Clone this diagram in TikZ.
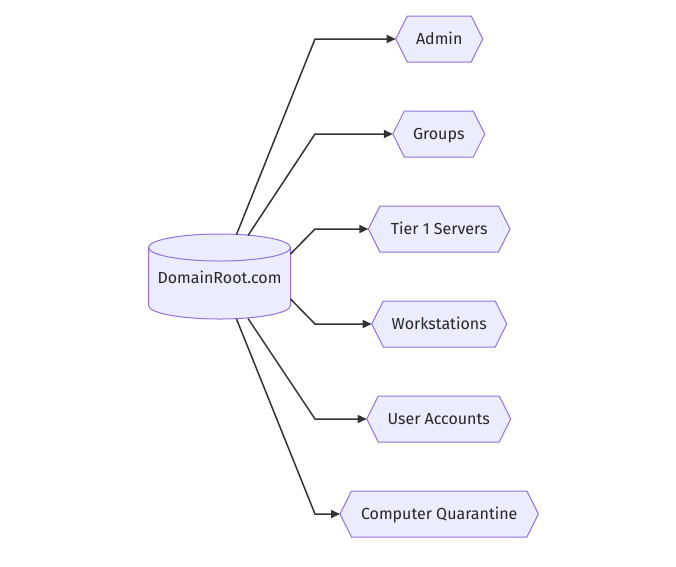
\documentclass[tikz,border=0pt]{standalone}
\usepackage{fontspec}
\setmainfont{Fira Sans}
\usetikzlibrary{arrows.meta}
\definecolor{nodefill}{HTML}{ECECFF}
\definecolor{nodeline}{HTML}{9370DB}
\definecolor{edgeline}{HTML}{333333}
\tikzset{
  shapeline/.style={draw=nodeline, fill=nodefill, line width=1pt},
  lbl/.style={inner sep=0pt, anchor=base, text=black!85, font=\fontsize{16}{19}\selectfont},
  edge/.style={draw=edgeline, line width=1.5pt, -{Triangle[length=9pt,width=8pt]}}
}
\newcommand\myhex[5]{% name, cx, cy, halfwidth, text
  \path[shapeline] (#2-#4,#3) -- (#2-#4+11.5,#3-23) -- (#2+#4-11.5,#3-23) -- (#2+#4,#3)
     -- (#2+#4-11.5,#3+23) -- (#2-#4+11.5,#3+23) -- cycle;
  \node[lbl] (#1) at (#2,#3+5.5) {#5};
  \coordinate (#1-l) at (#2-#4,#3);
}
\begin{document}
\begin{tikzpicture}[x=1pt,y=-1pt]
\useasboundingbox (0,0) rectangle (676,566);
% cylinder
\path[shapeline] (148.5,247.5) -- (148.5,305.5) arc[start angle=180,end angle=0,x radius=71,y radius=13.5]
   -- (290.5,247.5) arc[start angle=0,end angle=-180,x radius=71,y radius=13.5] -- cycle;
\draw[draw=nodeline, line width=1pt] (148.5,247.5) arc[start angle=180,end angle=0,x radius=71,y radius=13.5];
\node[lbl] (root) at (219.5,283) {DomainRoot.com};
\coordinate (r1) at (236.5,234.5);
\coordinate (r2) at (248,235.5);
\coordinate (r3) at (290.5,254);
\coordinate (r4) at (290.5,299);
\coordinate (r5) at (248,318.5);
\coordinate (r6) at (236.5,319);
% hexagons
\myhex{admin}{439.2}{39}{43.5}{Admin}
\myhex{groups}{438.8}{134}{46}{Groups}
\myhex{tier}{439.2}{229}{70.8}{Tier 1 Servers}
\myhex{work}{439.2}{324}{67.5}{Workstations}
\myhex{user}{438.7}{419}{72}{User Accounts}
\myhex{quar}{439.2}{514}{99.2}{Computer Quarantine}
% bends
\coordinate (b1) at (315,39);
\coordinate (b2) at (315,134);
\coordinate (b3) at (315,229);
\coordinate (b4) at (315,324);
\coordinate (b5) at (315,419);
\coordinate (b6) at (315,514);
\draw[edge] (r1) -- (b1) -- (admin-l);
\draw[edge] (r2) -- (b2) -- (groups-l);
\draw[edge] (r3) -- (b3) -- (tier-l);
\draw[edge] (r4) -- (b4) -- (work-l);
\draw[edge] (r5) -- (b5) -- (user-l);
\draw[edge] (r6) -- (b6) -- (quar-l);
\end{tikzpicture}
\end{document}
